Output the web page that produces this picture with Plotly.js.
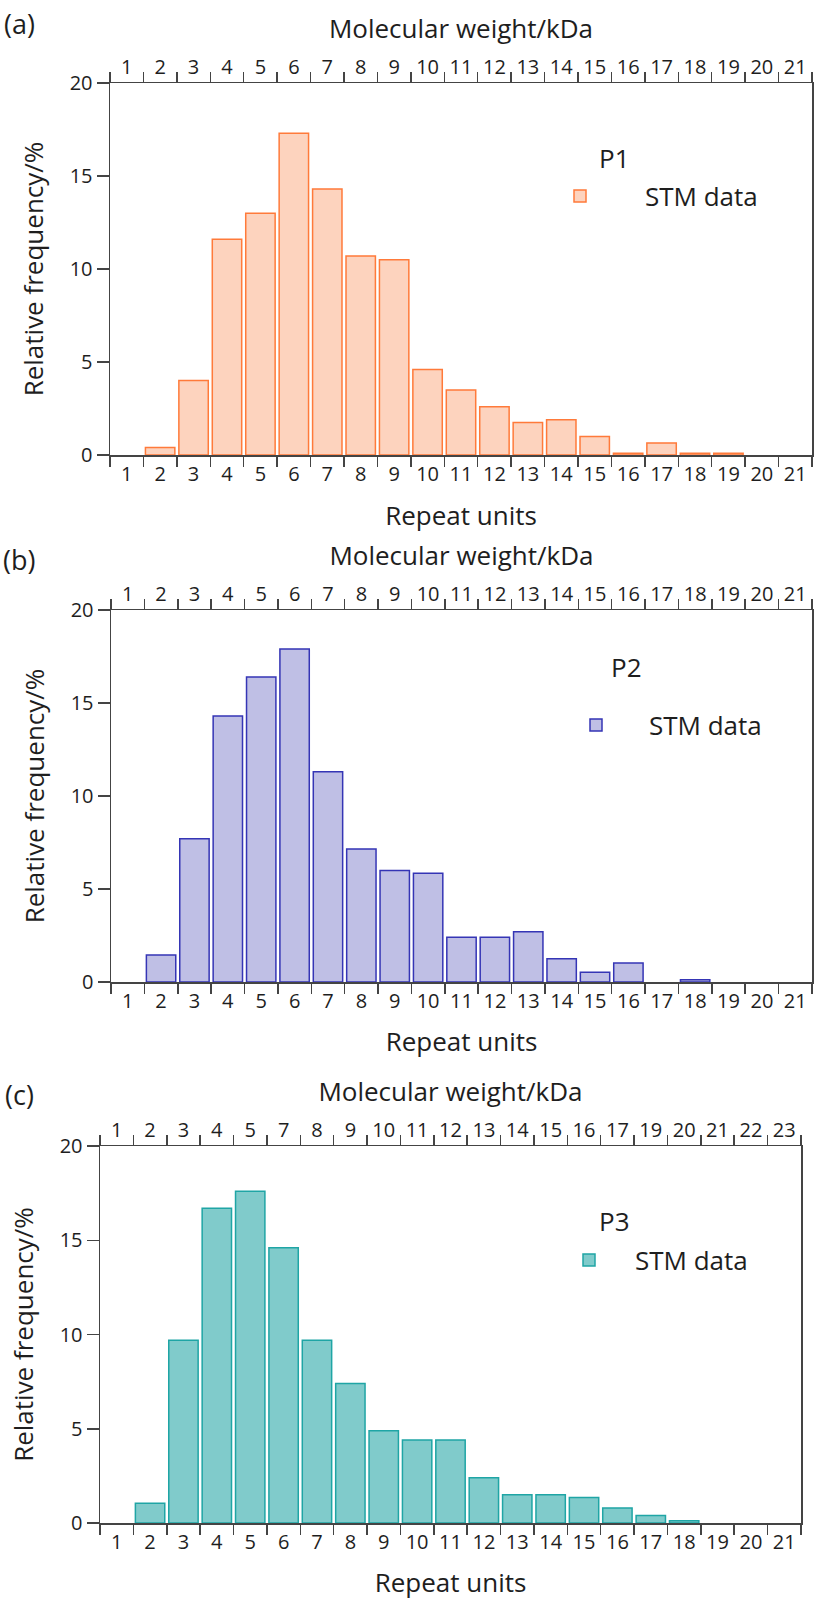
<!DOCTYPE html>
<html>
<head>
<meta charset="utf-8">
<script src="https://cdn.plot.ly/plotly-3.0.1.min.js"></script>
<style>
  html, body { margin: 0; padding: 0; background: #fff; }
  #chart { width: 814px; height: 1600px; }
</style>
</head>
<body>
<div id="chart"></div>
<script>
// ---------- data ----------
const repeatUnits = ['1','2','3','4','5','6','7','8','9','10','11','12','13','14','15','16','17','18','19','20','21'];
const mwTicksP1 = ['1','2','3','4','5','6','7','8','9','10','11','12','13','14','15','16','17','18','19','20','21'];
const mwTicksP2 = ['1','2','3','4','5','6','7','8','9','10','11','12','13','14','15','16','17','18','19','20','21'];
const mwTicksP3 = ['1','2','3','4','5','7','8','9','10','11','12','13','14','15','16','17','19','20','21','22','23'];

const freqP1 = [0, 0.4, 4.0, 11.6, 13.0, 17.3, 14.3, 10.7, 10.5, 4.6, 3.5, 2.6, 1.75, 1.9, 1.0, 0.1, 0.65, 0.1, 0.1, 0, 0];
const freqP2 = [0, 1.45, 7.7, 14.3, 16.4, 17.9, 11.3, 7.15, 6.0, 5.85, 2.4, 2.4, 2.7, 1.25, 0.52, 1.02, 0, 0.12, 0, 0, 0];
const freqP3 = [0, 1.05, 9.7, 16.7, 17.6, 14.6, 9.7, 7.4, 4.9, 4.4, 4.4, 2.4, 1.5, 1.5, 1.35, 0.8, 0.4, 0.12, 0, 0, 0];

const panelNames = ['P1', 'P2', 'P3'];
const panelLetters = ['(a)', '(b)', '(c)'];
const seriesName = 'STM data';
const xTitle = 'Repeat units';
const xTopTitle = 'Molecular weight/kDa';
const yTitle = 'Relative frequency/%';
const yTicks = [0, 5, 10, 15, 20];

// ---------- styling ----------
const W = 814, H = 1600;
const FONT = 'Open Sans, sans-serif';
const TXT = '#1e1e1e';
const LINE = '#444444';
const TICK_SIZE = 20, TITLE_SIZE = 26;
const fills = ['#FDD3BE', '#BFBFE5', '#80CBCB'];
const edges = ['#FF7A3A', '#3535B5', '#1FA5A5'];
// plot area boxes in pixels: [left, right, top, bottom]
const boxes = [
  [110, 812, 83, 455],
  [111, 812, 610, 982],
  [100, 801, 1146, 1523]
];
const bottomStandoff = [21, 20, 28];
const yStandoff = [18, 18, 18];
// legend: [left px, item centre y px, itemwidth]
const legendPos = [[515, 196, 120], [543, 725, 96], [543, 1260, 82]];
// legend heading (series group name): [left px, centre y px]
const namePos = [[597, 158], [609, 667], [597, 1221]];
const letterPos = [[19, 23], [19, 559], [19, 1094]];
const freqs = [freqP1, freqP2, freqP3];
const mwTicks = [mwTicksP1, mwTicksP2, mwTicksP3];

const traces = [];
const layout = {
  width: W, height: H,
  margin: {l: 0, r: 0, t: 0, b: 0},
  paper_bgcolor: '#ffffff', plot_bgcolor: '#ffffff',
  font: {family: FONT, color: TXT, size: TICK_SIZE},
  showlegend: true,
  annotations: []
};

for (let i = 0; i < 3; i++) {
  const [l, r, t, b] = boxes[i];
  const dx = [l / W, r / W];
  const dy = [1 - b / H, 1 - t / H];
  const xb = i === 0 ? 'x' : 'x' + (2 * i + 1);
  const xt = 'x' + (2 * i + 2);
  const yy = i === 0 ? 'y' : 'y' + (i + 1);
  const xbKey = i === 0 ? 'xaxis' : 'xaxis' + (2 * i + 1);
  const xtKey = 'xaxis' + (2 * i + 2);
  const yKey = i === 0 ? 'yaxis' : 'yaxis' + (i + 1);
  const legKey = i === 0 ? 'legend' : 'legend' + (i + 1);

  traces.push({
    type: 'bar', x: repeatUnits,
    y: freqs[i].map(v => (v > 0 ? v : null)),
    xaxis: xb, yaxis: yy,
    name: seriesName, legend: legKey,
    width: 0.88,
    marker: {color: fills[i], line: {color: edges[i], width: 1.5}},
    hoverinfo: 'x+y'
  });
  traces.push({
    type: 'scatter', mode: 'markers', x: mwTicks[i], y: mwTicks[i].map(() => 0),
    xaxis: xt, yaxis: yy, marker: {opacity: 0, size: 1},
    showlegend: false, hoverinfo: 'skip'
  });

  const common = {
    type: 'category', categoryorder: 'array', range: [-0.5, 20.5],
    tickson: 'boundaries', ticks: 'outside', ticklen: 10, tickwidth: 1.5, tickcolor: LINE,
    tickangle: 0,
    showline: true, linecolor: LINE, linewidth: 1.5, showgrid: false, zeroline: false,
    tickfont: {family: FONT, size: TICK_SIZE, color: TXT}, fixedrange: true
  };
  layout[xbKey] = Object.assign({}, common, {
    domain: dx, anchor: yy, categoryarray: repeatUnits, side: 'bottom',
    title: {text: xTitle, font: {family: FONT, size: TITLE_SIZE, color: TXT}, standoff: bottomStandoff[i]}
  });
  layout[xtKey] = Object.assign({}, common, {
    domain: dx, anchor: yy, overlaying: xb, side: 'top', categoryarray: mwTicks[i],
    title: {text: xTopTitle, font: {family: FONT, size: TITLE_SIZE, color: TXT}, standoff: 6}
  });
  layout[yKey] = {
    domain: dy, anchor: xb, range: [0, 20], tickvals: yTicks,
    ticks: 'outside', ticklen: 12, tickwidth: 1.5, tickcolor: LINE,
    showline: true, mirror: true, linecolor: LINE, linewidth: 1.5,
    showgrid: false, zeroline: false, fixedrange: true,
    tickfont: {family: FONT, size: TICK_SIZE, color: TXT},
    title: {text: yTitle, font: {family: FONT, size: TITLE_SIZE, color: TXT}, standoff: yStandoff[i]}
  };
  layout[legKey] = {
    x: legendPos[i][0] / W, y: 1 - legendPos[i][1] / H, xanchor: 'left', yanchor: 'middle',
    bgcolor: 'rgba(0,0,0,0)', borderwidth: 0, itemwidth: legendPos[i][2],
    font: {family: FONT, size: TITLE_SIZE, color: TXT}
  };
  layout.annotations.push({
    xref: 'paper', yref: 'paper', x: namePos[i][0] / W, y: 1 - namePos[i][1] / H,
    xanchor: 'left', yanchor: 'middle', showarrow: false, text: panelNames[i],
    font: {family: FONT, size: TITLE_SIZE, color: TXT}
  });
  layout.annotations.push({
    xref: 'paper', yref: 'paper', x: letterPos[i][0] / W, y: 1 - letterPos[i][1] / H,
    xanchor: 'center', yanchor: 'middle', showarrow: false, text: panelLetters[i],
    font: {family: FONT, size: 27, color: TXT}
  });
}

Plotly.newPlot('chart', traces, layout, {staticPlot: true, displayModeBar: false});
</script>
</body>
</html>
